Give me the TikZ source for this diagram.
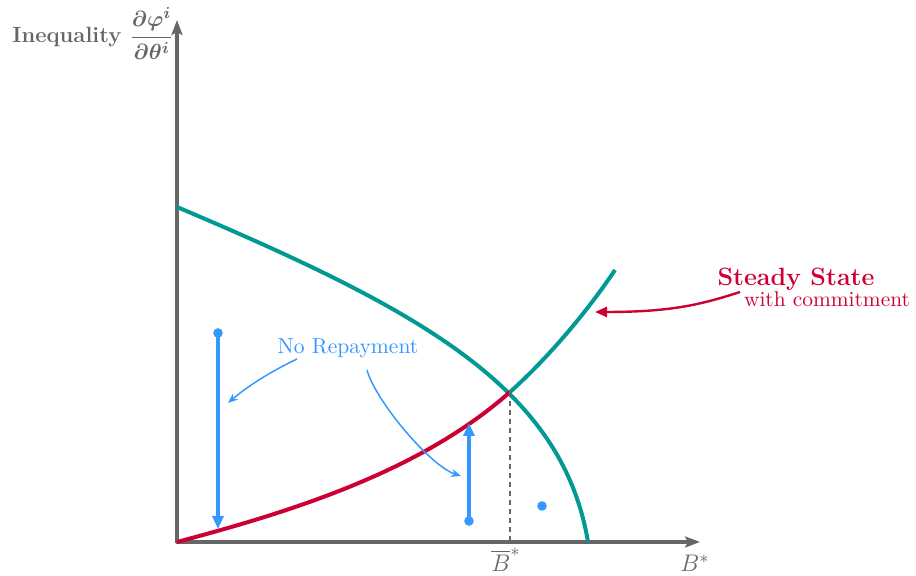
\documentclass[tikz,border=0pt]{standalone}
\usepackage{amsmath,amssymb}
\usepackage{tikz}
\usetikzlibrary{arrows.meta,positioning}
\definecolor{axisgray}{HTML}{666666}
\definecolor{curveteal}{RGB}{0,153,148}
\definecolor{ssred}{RGB}{204,0,51}
\definecolor{shiftblue}{RGB}{51,153,255}

\begin{document}
\begin{tikzpicture}[
      x=0.5pt,y=0.5pt,
      axis/.style={draw=axisgray,line width=2pt,-{Stealth[length=7.5pt,width=5.5pt,inset=1.5pt]}},
      curve/.style={line width=2pt},
      move/.style={shiftblue,line width=2pt,-{Triangle[length=6.5pt,width=5.5pt]}},
      dot/.style={circle,fill=shiftblue,inner sep=0pt,minimum size=4.8pt},
      note/.style={shiftblue,line width=0.75pt,-{Stealth[length=5pt,width=4pt]}},
      lbl/.style={inner sep=0pt,anchor=base},
    ]
    \useasboundingbox (0,0) rectangle (916,576);

    % axes
    \coordinate (O) at (177,34);
    \coordinate (ytip) at (177,556);
    \coordinate (xtip) at (700,34);
    \draw[axis] (177,33) -- (ytip);
    \draw[axis] (176,34) -- (xtip);

    % curves
    \coordinate (tealtop) at (177,369);
    \coordinate (tealbot) at (588,34);
    \coordinate (ss) at (510,184);
    \coordinate (tealend) at (615,306);
    \coordinate (ssfoot) at (510,34);
    \draw[curve,curveteal] (tealtop) .. controls (420,266) and (562,189) .. (tealbot);
    \draw[curve,ssred] (O) .. controls (290,64) and (420,104) .. (ss);
    \draw[curve,curveteal] (ss) .. controls (547,217) and (587,264) .. (tealend);
    \draw[axisgray,line width=1pt,dash pattern=on 2.5pt off 2pt] (ss) -- (ssfoot);

    % axis labels
    \node[lbl,text=axisgray,anchor=base west] (ylab) at (12,533)
      {\fontsize{11}{13}\selectfont\bfseries Inequality {\boldmath$\dfrac{\partial\varphi^i}{\partial\theta^i}$}};
    \node[lbl,text=axisgray] (bbar) at (506,4) {\fontsize{13}{15}\selectfont$\overline{B}^*$};
    \node[lbl,text=axisgray] (blab) at (695,4) {\fontsize{13}{15}\selectfont$B^*$};

    % no repayment shifts
    \node[dot] (d1) at (218,243) {};
    \coordinate (t1) at (218,47);
    \node[dot] (d2) at (469,55) {};
    \coordinate (t2) at (469,153);
    \node[dot] (d3) at (542,70) {};
    \draw[move] (d1.center) -- (t1);
    \draw[move] (d2.center) -- (t2);

    \node[lbl,text=shiftblue] (norep) at (348,222) {\fontsize{10.8}{13}\selectfont No Repayment};
    \coordinate (n1s) at (297,217);
    \coordinate (n1e) at (228,173);
    \coordinate (n2s) at (367,206);
    \coordinate (n2e) at (461,100);
    \draw[note] (n1s) .. controls (270,204) and (248,190) .. (n1e);
    \draw[note] (n2s) .. controls (375,176) and (430,110) .. (n2e);

    % steady state
    \node[lbl,text=ssred] (ssl) at (796,290) {\fontsize{12.5}{15}\selectfont\bfseries Steady State};
    \node[lbl,text=ssred] (ssc) at (827,269) {\fontsize{10.7}{13}\selectfont with commitment};
    \coordinate (sss) at (740,284);
    \coordinate (sse) at (595,264);
    \draw[ssred,line width=1.2pt,-{Triangle[length=6pt,width=5pt]}] (sss) .. controls (700,271) and (670,264) .. (sse);
  \end{tikzpicture}
\end{document}
